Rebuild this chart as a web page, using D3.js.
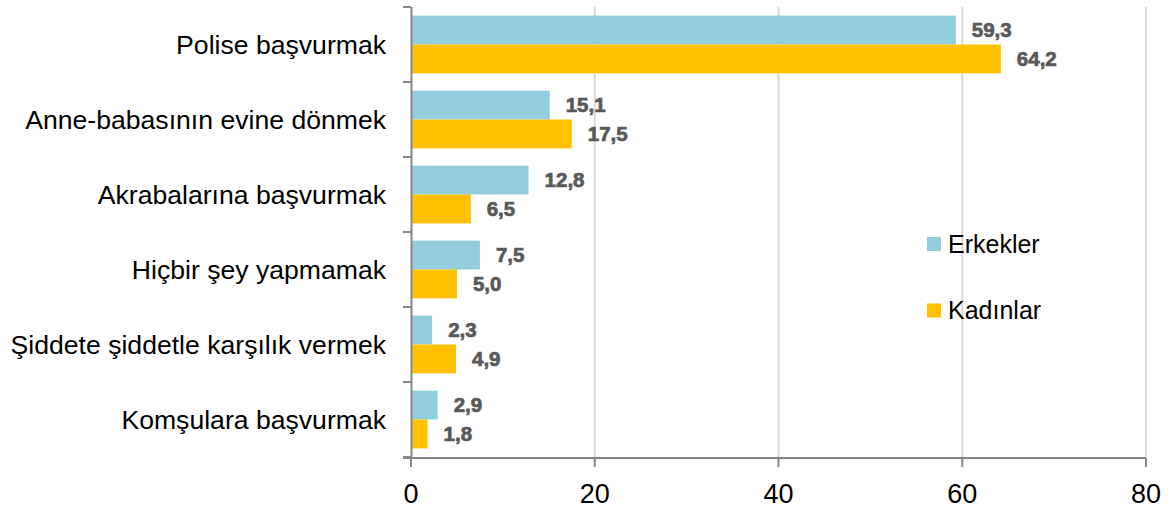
<!DOCTYPE html>
<html><head><meta charset="utf-8">
<script src="https://cdn.jsdelivr.net/npm/d3@7"></script>
<style>body{margin:0;background:#fff}svg{display:block}</style>
</head><body><svg id="c" width="1172" height="508"></svg>
<script>
const categories = ["Polise başvurmak","Anne-babasının evine dönmek","Akrabalarına başvurmak","Hiçbir şey yapmamak","Şiddete şiddetle karşılık vermek","Komşulara başvurmak"];
const erkekler = [59.3,15.1,12.8,7.5,2.3,2.9];
const kadinlar = [64.2,17.5,6.5,5.0,4.9,1.8];
const seriesNames = ["Erkekler","Kadınlar"];
const colors = ["#92CDDC","#FFC000"];
const xTicks = [0,20,40,60,80];

const svg = d3.select("#c");
const x = d3.scaleLinear().domain([0,80]).range([411,1146]);
const y = d3.scaleBand().domain(categories).range([7,457]).paddingInner(0.23).paddingOuter(0.115);
const ys = d3.scaleBand().domain(seriesNames).range([0,y.bandwidth()]);
const fmt = v => d3.format(".1f")(v).replace(".",",");

// gridlines
svg.append("g").selectAll("line").data(xTicks.slice(1)).join("line")
  .attr("x1",d=>x(d)).attr("x2",d=>x(d)).attr("y1",7).attr("y2",457)
  .attr("stroke","#d9d9d9").attr("stroke-width",2);

const series = [erkekler,kadinlar];
series.forEach((vals,si)=>{
  const g = svg.append("g");
  g.selectAll("rect").data(vals).join("rect")
    .attr("x",x(0)).attr("y",(d,i)=>y(categories[i])+ys(seriesNames[si]))
    .attr("width",d=>x(d)-x(0)).attr("height",ys.bandwidth())
    .attr("fill",colors[si]);
  g.selectAll("text").data(vals).join("text")
    .attr("x",d=>x(d)+16).attr("y",(d,i)=>y(categories[i])+ys(seriesNames[si])+ys.bandwidth()/2)
    .attr("dy","0.36em").attr("font-family","Liberation Sans").attr("font-weight","bold")
    .attr("font-size",20.5).attr("fill","#595959").attr("stroke","#595959").attr("stroke-width",0.7)
    .text(d=>fmt(d));
});

// left axis
const yAxisScale = d3.scaleLinear().domain([0,6]).range([7,457]);
const ly = svg.append("g");
ly.append("line").attr("x1",411.5).attr("x2",411.5).attr("y1",7).attr("y2",457).attr("stroke","#868686").attr("stroke-width",2);
ly.selectAll("line.t").data(d3.range(7)).join("line").attr("class","t")
  .attr("x1",403).attr("x2",411).attr("y1",d=>yAxisScale(d)).attr("y2",d=>yAxisScale(d))
  .attr("stroke","#868686").attr("stroke-width",2);
svg.append("g").selectAll("text").data(categories).join("text")
  .attr("x",386).attr("y",d=>y(d)+y.bandwidth()/2).attr("dy","0.35em")
  .attr("text-anchor","end").attr("font-family","Liberation Sans").attr("font-size",26.6)
  .attr("fill","#000").text(d=>d);

// bottom axis
const bx = svg.append("g");
bx.append("line").attr("x1",403).attr("x2",1146).attr("y1",458).attr("y2",458).attr("stroke","#868686").attr("stroke-width",2);
bx.selectAll("line.t").data(xTicks).join("line").attr("class","t")
  .attr("x1",d=>x(d)).attr("x2",d=>x(d)).attr("y1",458).attr("y2",467)
  .attr("stroke","#868686").attr("stroke-width",2);
bx.selectAll("text").data(xTicks).join("text")
  .attr("x",d=>x(d)).attr("y",494).attr("dy","0.35em").attr("text-anchor","middle")
  .attr("font-family","Liberation Sans").attr("font-size",27).attr("fill","#000").text(d=>d);

// legend
const lg = svg.append("g");
seriesNames.forEach((n,i)=>{
  const yy = 244 + i*66.5;
  lg.append("rect").attr("x",927).attr("y",yy-7).attr("width",14).attr("height",14).attr("fill",colors[i]);
  lg.append("text").attr("x",948).attr("y",yy).attr("dy","0.35em").attr("font-family","Liberation Sans")
    .attr("font-size",25).attr("fill","#000").text(n);
});
</script></body></html>
